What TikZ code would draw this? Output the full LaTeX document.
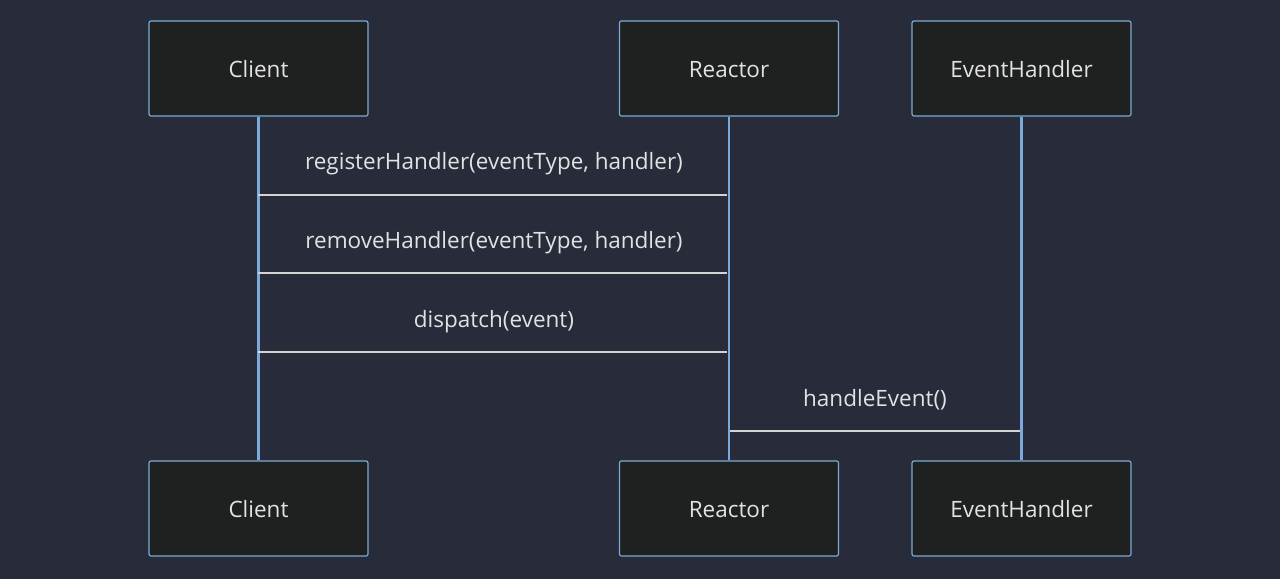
\documentclass[tikz,border=0pt]{standalone}
\usepackage{fontspec}
\setmainfont{Open Sans}
\definecolor{bgc}{RGB}{40,44,58}
\definecolor{boxfill}{RGB}{31,32,32}
\definecolor{boxline}{RGB}{122,170,214}
\definecolor{lifec}{RGB}{122,170,220}
\definecolor{msgc}{RGB}{212,212,212}
\definecolor{txtc}{RGB}{226,226,226}
\begin{document}
\begin{tikzpicture}[x=1pt,y=-1pt,
  actor/.style={draw=boxline,fill=boxfill,line width=1.2pt,rounded corners=2pt,minimum width=219pt,minimum height=95pt,text=txtc,font=\fontsize{22.5}{27}\selectfont,inner sep=0pt,text height=19pt,text depth=1pt},
  life/.style={draw=lifec,line width=2.5pt},
  msg/.style={draw=msgc,line width=2pt},
  lbl/.style={text=txtc,font=\fontsize{22.5}{27}\selectfont,inner sep=0pt,text height=19pt,text depth=1pt}]
\fill[bgc] (0,0) rectangle (1280,579);
\useasboundingbox (0,0) rectangle (1280,579);
\node[actor] (c1) at (258.5,68.5) {Client};
\node[actor] (r1) at (729,68.5) {Reactor};
\node[actor] (e1) at (1021.5,68.5) {EventHandler};
\node[actor] (c2) at (258.5,508.5) {Client};
\node[actor] (r2) at (729,508.5) {Reactor};
\node[actor] (e2) at (1021.5,508.5) {EventHandler};
\draw[life] (c1.south) -- (c2.north);
\draw[life] (r1.south) -- (r2.north);
\draw[life] (e1.south) -- (e2.north);
\coordinate (m1a) at (258,195); \coordinate (m1b) at (727,195);
\coordinate (m2a) at (258,273); \coordinate (m2b) at (727,273);
\coordinate (m3a) at (258,352); \coordinate (m3b) at (727,352);
\coordinate (m4a) at (730,431); \coordinate (m4b) at (1020,431);
\draw[msg] (m1a) -- (m1b);
\draw[msg] (m2a) -- (m2b);
\draw[msg] (m3a) -- (m3b);
\draw[msg] (m4a) -- (m4b);
\node[lbl] (l1) at (494,160) {registerHandler(eventType, handler)};
\node[lbl] (l2) at (494,239) {removeHandler(eventType, handler)};
\node[lbl] (l3) at (494,318) {dispatch(event)};
\node[lbl] (l4) at (875,397) {handleEvent()};
\end{tikzpicture}
\end{document}
